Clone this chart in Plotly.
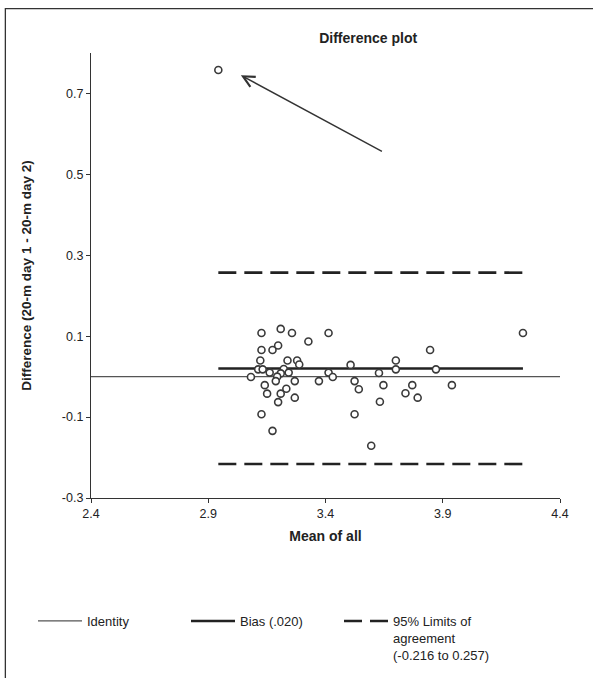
import plotly.graph_objects as go

# Data (mean of all, difference)
mean_all = [2.943, 3.127, 3.209, 3.257, 3.413, 3.327, 3.198, 3.174, 3.127, 3.122,
            3.238, 3.279, 3.288, 3.507, 3.700, 3.113, 3.132, 3.222, 3.162, 3.243,
            3.209, 3.194, 3.082, 3.413, 3.431, 3.628, 3.700, 3.188, 3.269, 3.372,
            3.524, 3.141, 3.647, 3.542, 3.233, 3.151, 3.209, 3.269, 3.198, 3.632,
            3.127, 3.524, 3.174, 3.595, 4.242, 3.846, 3.871, 3.770, 3.939, 3.741,
            3.793]
difference = [0.758, 0.108, 0.118, 0.108, 0.108, 0.087, 0.077, 0.066, 0.066, 0.040,
              0.040, 0.040, 0.030, 0.029, 0.040, 0.018, 0.018, 0.019, 0.010, 0.010,
              0.008, 0.000, -0.001, 0.010, -0.001, 0.009, 0.018, -0.011, -0.011, -0.011,
              -0.011, -0.021, -0.021, -0.031, -0.030, -0.042, -0.042, -0.052, -0.063, -0.062,
              -0.093, -0.093, -0.134, -0.171, 0.108, 0.066, 0.018, -0.021, -0.021, -0.041,
              -0.052]

bias = 0.020
loa_low = -0.216
loa_high = 0.257
x_range = [2.4, 4.4]
y_range = [-0.3, 0.8]
x_ticks = [2.4, 2.9, 3.4, 3.9, 4.4]
x_tick_labels = ["2.4", "2.9", "3.4", "3.9", "4.4"]
y_ticks = [-0.3, -0.1, 0.1, 0.3, 0.5, 0.7]
y_tick_labels = ["-0.3", "-0.1", "0.1", "0.3", "0.5", "0.7"]

# arrow pointing at the outlier (tip, tail)
arrow_tip = (3.039, 0.745)
arrow_tail = (3.647, 0.555)

xmin, xmax = min(mean_all), max(mean_all)
FONT = "Liberation Sans, Arial, sans-serif"

fig = go.Figure()

fig.add_trace(go.Scatter(
    x=x_range, y=[0, 0], mode="lines", name="Identity",
    line=dict(color="#555555", width=1.2), hoverinfo="skip"))
fig.add_trace(go.Scatter(
    x=[xmin, xmax], y=[bias, bias], mode="lines", name="Bias (.020)",
    line=dict(color="#222222", width=2.6), hoverinfo="skip"))
fig.add_trace(go.Scatter(
    x=[xmin, xmax], y=[loa_high, loa_high], mode="lines",
    name="95% Limits of<br>agreement<br>(-0.216 to 0.257)",
    line=dict(color="#222222", width=2.6, dash="18px,8px"), hoverinfo="skip"))
fig.add_trace(go.Scatter(
    x=[xmin, xmax], y=[loa_low, loa_low], mode="lines", showlegend=False,
    line=dict(color="#222222", width=2.6, dash="18px,8px"), hoverinfo="skip"))
fig.add_trace(go.Scatter(
    x=mean_all, y=difference, mode="markers", showlegend=False,
    marker=dict(symbol="circle", size=7, color="white",
                line=dict(color="#3a3a3a", width=1.6))))

fig.add_annotation(
    x=arrow_tip[0], y=arrow_tip[1], ax=arrow_tail[0], ay=arrow_tail[1],
    xref="x", yref="y", axref="x", ayref="y", text="", showarrow=True,
    arrowhead=5, arrowsize=1.6, arrowwidth=1.4, arrowcolor="#333333")

# outer frame
fig.add_shape(type="rect", xref="paper", yref="paper",
              x0=-0.1826, x1=1.2, y0=-0.6, y1=1.0997,
              line=dict(color="#333333", width=1.3), fillcolor="rgba(0,0,0,0)")

fig.update_layout(
    width=593, height=678,
    margin=dict(l=91, r=33, t=53, b=180, autoexpand=False),
    paper_bgcolor="white", plot_bgcolor="white",
    font=dict(family=FONT, size=12, color="#222222"),
    title=dict(text="<b>Difference plot</b>", x=0.591, xref="paper", xanchor="center",
               y=1 - 38 / 678, yanchor="middle", font=dict(size=14, color="#222222")),
    showlegend=True,
    legend=dict(orientation="h", xref="container", x=33 / 593, xanchor="left",
                yref="container", y=1 - 606 / 678, yanchor="top",
                entrywidth=94, entrywidthmode="pixels", itemwidth=44, valign="top",
                font=dict(size=13, color="#222222"), bgcolor="rgba(0,0,0,0)",
                tracegroupgap=0),
    xaxis=dict(range=x_range, tickvals=x_ticks, ticktext=x_tick_labels,
               showgrid=False, zeroline=False, showline=True, linecolor="#333333",
               linewidth=1.3, ticks="outside", ticklen=4, tickcolor="#333333",
               tickfont=dict(size=12.5),
               title=dict(text="<b>Mean of all</b>", font=dict(size=14), standoff=11)),
    yaxis=dict(range=y_range, tickvals=y_ticks, ticktext=y_tick_labels,
               showgrid=False, zeroline=False, showline=True, linecolor="#333333",
               linewidth=1.3, ticks="outside", ticklen=4, tickcolor="#333333",
               tickfont=dict(size=12.5),
               title=dict(text="<b>Difference (20-m day 1 - 20-m day 2)</b>",
                          font=dict(size=13.5), standoff=27)),
)

fig.write_html("out.html", config={"displayModeBar": False},
               post_script="document.body.style.margin='0';document.body.style.overflow='hidden';")
